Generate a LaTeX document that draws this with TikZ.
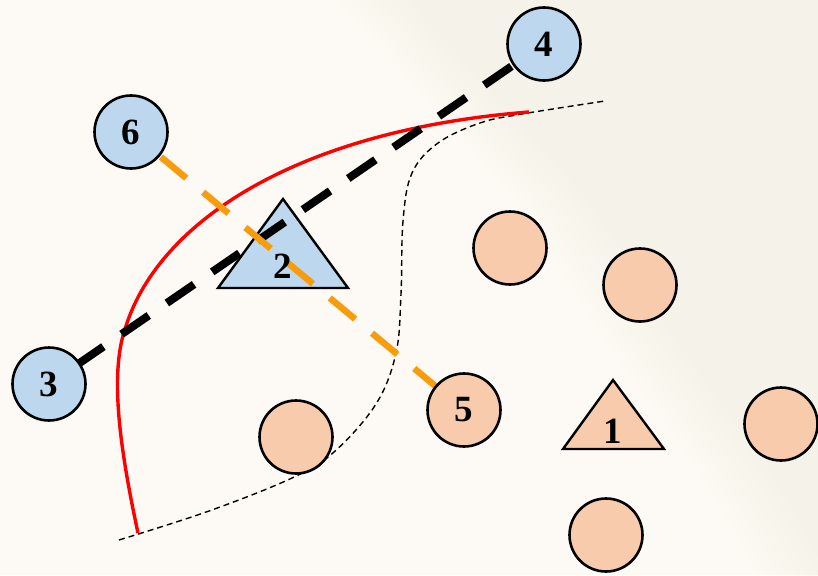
\documentclass[tikz,border=0pt]{standalone}
\usepackage{fontspec}
\setmainfont{Liberation Serif}
\definecolor{bgA}{HTML}{FDFAF5}
\definecolor{bgB}{HTML}{F3EDDF}
\definecolor{blueF}{HTML}{BDD7EE}
\definecolor{peachF}{HTML}{F8CBAD}
\definecolor{orangeL}{HTML}{F89B0C}
\pgfdeclarelayer{bg}
\pgfdeclarelayer{mid}
\pgfsetlayers{bg,mid,main}
\tikzset{
 circ/.style={circle, draw=black, line width=2.6pt, minimum size=73pt, inner sep=0pt, font=\fontsize{37}{40}\selectfont\bfseries},
 bluec/.style={circ, fill=blueF},
 peachc/.style={circ, fill=peachF},
 tri/.style={draw=black, line width=2.4pt, line join=miter},
 lbl/.style={font=\fontsize{37}{40}\selectfont\bfseries, inner sep=0pt},
 blackdash/.style={line width=8pt, dash pattern=on 33pt off 22pt, dash phase=22pt},
 orangedash/.style={line width=6.5pt, color=orangeL, dash pattern=on 33pt off 22pt, dash phase=16pt},
 redcurve/.style={red, line width=3.4pt},
 thindash/.style={line width=1.4pt, dash pattern=on 6pt off 4pt},
}
\begin{document}
\begin{tikzpicture}[x=1pt,y=-1pt]
\useasboundingbox (0,0) rectangle (818,575);
\begin{pgfonlayer}{bg}
 \fill[bgA] (0,0) rectangle (818,575);
 \foreach \s in {0,10,...,70} {
  \fill[bgB, opacity=0.06] plot[smooth] coordinates {({334+\s},-5) ({470+\s},147) ({522+\s},206) ({600+\s},331) ({704+\s},478) ({760+\s},580)} -- (900,580) -- (900,-5) -- cycle;
 }
\end{pgfonlayer}

% peach circles
\node[peachc] (p1) at (510,248) {};
\node[peachc] (p2) at (640,285) {};
\node[peachc] (p3) at (296,437) {};
\node[peachc] (p4) at (781,424) {};
\node[peachc] (p5) at (606,535) {};

\coordinate (rA) at (138,533);
\coordinate (rB) at (126,326);
\coordinate (rC) at (529,112);

\begin{pgfonlayer}{mid}
 % thin dashed boundary
 \draw[thindash] plot[smooth, tension=0.6] coordinates {(119,540) (209,511) (292,478) (334,452) (376,404) (396,353) (401,294) (403,221) (412,173) (438,143) (480,123) (522,114) (605,101)};
 % red boundary
 \draw[redcurve] (rA) .. controls (118,440) and (110,370) .. (rB)
                      .. controls (160,220) and (300,130) .. (rC);
 % triangles
 \draw[tri, fill=blueF] (218,288) -- (283,199) -- (348,288) -- cycle;
 \draw[tri, fill=peachF] (563,449) -- (613,380) -- (664,449) -- cycle;
\end{pgfonlayer}

\node[lbl] (t2) at (283,266) {2};
\node[lbl] (t1) at (613,431) {1};

% blue circles and node 5
\node[bluec] (c3) at (49,384) {3};
\node[bluec] (c4) at (544,44) {4};
\node[bluec] (c6) at (131,132) {6};
\node[peachc] (c5) at (464,410) {5};

\begin{pgfonlayer}{mid}
 \draw[blackdash] (c3.center) -- (c4.center);
 \draw[orangedash] (c6.center) -- (c5.center);
\end{pgfonlayer}
\end{tikzpicture}
\end{document}
